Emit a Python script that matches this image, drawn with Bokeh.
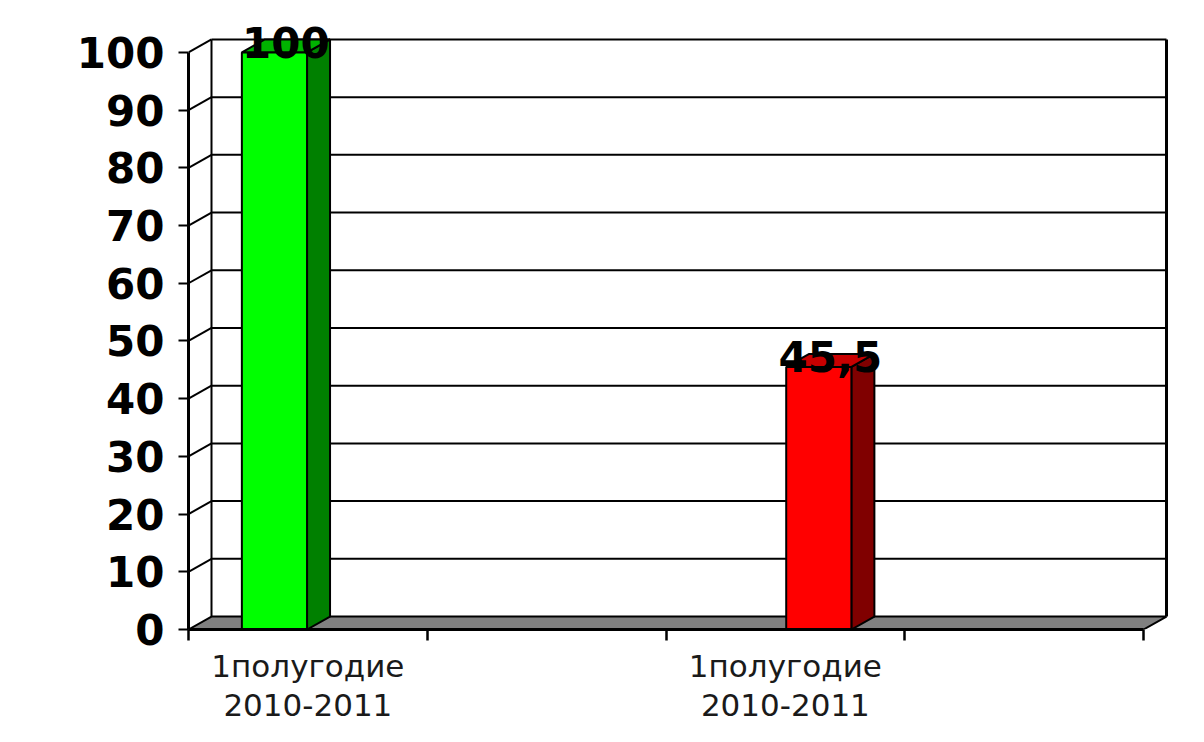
from bokeh.plotting import figure
from bokeh.models import Range1d, FixedTicker
from bokeh.core.properties import value
from bokeh.embed import file_html
from bokeh.resources import INLINE

# ---- data ----
categories = ["1полугодие\n2010-2011", "1полугодие\n2010-2011"]
values = [100, 45.5]
value_labels = ["100", "45,5"]
front_colors = ["#00FF00", "#FF0000"]
side_colors = ["#008000", "#800000"]
top_colors = ["#00B400", "#C80000"]
y_ticks = [0, 10, 20, 30, 40, 50, 60, 70, 80, 90, 100]
n_slots = 4          # category slots on the floor
slot_index = [0, 2]  # slot of each shown category
series_shift = [-1, 1]  # clustered position (series 1 left, series 2 right)

# ---- layout ----
W, H = 1188, 726
LEFT, BOTTOM = 188, 96
frame_w, frame_h = W - LEFT, H - BOTTOM
px_x = 238.75  # px per slot
px_y = 5.78    # px per unit
x_end = frame_w / px_x
y_end = frame_h / px_y
DX = 23 / px_x
DY = 13 / px_y
BAR_W = 0.273
SHIFT = 0.14

p = figure(width=W, height=H, x_range=Range1d(0, x_end), y_range=Range1d(0, y_end),
           output_backend="svg", toolbar_location=None,
           min_border_left=LEFT, min_border_right=0, min_border_top=0,
           min_border_bottom=BOTTOM)
p.outline_line_color = None
p.grid.grid_line_color = None
p.background_fill_color = "white"
p.border_fill_color = "white"

# back wall gridlines
gx0, gx1, gy = [], [], []
for v in y_ticks[1:]:
    gx0.append(DX); gx1.append(n_slots + DX); gy.append(v + DY)
p.segment(x0=gx0, y0=gy, x1=gx1, y1=gy, line_color="black", line_width=2)
# left wall diagonals
p.segment(x0=[0] * len(y_ticks[1:]), y0=y_ticks[1:], x1=[DX] * len(y_ticks[1:]),
          y1=[v + DY for v in y_ticks[1:]], line_color="black", line_width=2)
# wall edges
p.segment(x0=[DX, n_slots + DX], y0=[DY, DY], x1=[DX, n_slots + DX],
          y1=[y_ticks[-1] + DY] * 2, line_color="black", line_width=[2, 3])
# floor
p.patch(x=[0, DX, n_slots + DX, n_slots], y=[0, DY, DY, 0],
        fill_color="#808080", line_color="black", line_width=2)

# bars
for i, v in enumerate(values):
    c = slot_index[i] + 0.5 + series_shift[i] * SHIFT
    l, r = c - BAR_W / 2, c + BAR_W / 2
    p.patch(x=[r, r + DX, r + DX, r], y=[0, DY, v + DY, v],
            fill_color=side_colors[i], line_color="black", line_width=2)
    p.patch(x=[l, l + DX, r + DX, r], y=[v, v + DY, v + DY, v],
            fill_color=top_colors[i], line_color="black", line_width=2)
    p.quad(left=l, right=r, bottom=0, top=v,
           fill_color=front_colors[i], line_color="black", line_width=2)
    p.text(x=[c + DX / 2], y=[v], text=[value_labels[i]], text_align="center",
           text_baseline="middle", y_offset=-10, text_font_size="42px",
           text_font_style="bold", text_color="black",
           text_font=value("DejaVu Sans"))

# y axis
ya = p.yaxis[0]
ya.bounds = (0, y_ticks[-1])
ya.ticker = FixedTicker(ticks=y_ticks)
ya.axis_line_width = 3
ya.axis_line_color = "black"
ya.major_tick_out = 10
ya.major_tick_in = 0
ya.major_tick_line_width = 2
ya.minor_tick_line_color = None
ya.major_label_standoff = 14
ya.major_label_text_font = "DejaVu Sans"
ya.major_label_text_font_size = "42px"
ya.major_label_text_font_style = "bold"
ya.major_label_text_color = "black"

# x axis
xa = p.xaxis[0]
xa.bounds = (0, n_slots)
label_pos = [s + 0.5 for s in slot_index]
xa.ticker = FixedTicker(ticks=label_pos, minor_ticks=list(range(n_slots + 1)))
xa.major_label_overrides = {pos: lab for pos, lab in zip(label_pos, categories)}
xa.axis_line_width = 3
xa.axis_line_color = "black"
xa.major_tick_out = 0
xa.major_tick_in = 0
xa.minor_tick_out = 11
xa.minor_tick_in = 0
xa.minor_tick_line_width = 2.5
xa.minor_tick_line_color = "black"
xa.major_label_standoff = 7
xa.major_label_text_font = "DejaVu Sans"
xa.major_label_text_font_size = "31px"
xa.major_label_text_line_height = 1.1
xa.major_label_text_color = "#1a1a1a"

open("out.html", "w").write(file_html(p, INLINE))
